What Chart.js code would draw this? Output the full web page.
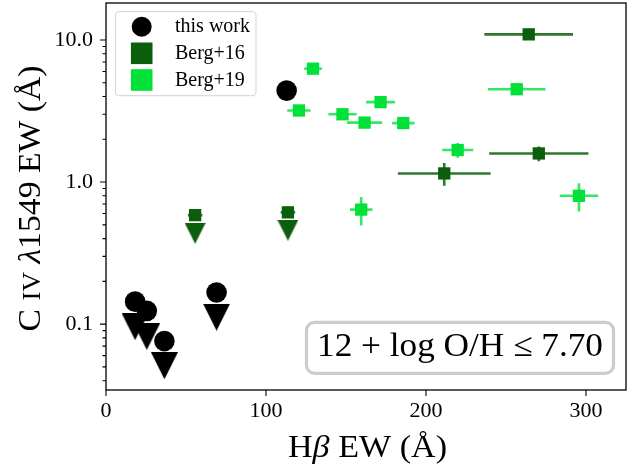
<!DOCTYPE html>
<html><head><meta charset="utf-8">
<script src="https://cdn.jsdelivr.net/npm/chart.js@4.4.1/dist/chart.umd.min.js"></script>
<style>html,body{margin:0;padding:0;background:#fff;} canvas{display:block;}</style>
</head><body>
<canvas id="c" width="641" height="469" style="width:641px;height:469px"></canvas>
<script>
// ---- data ----
const xTicks = [0, 100, 200, 300];
const yMajorTicks = [0.1, 1, 10];
const yTickLabels = ['0.1', '1.0', '10.0'];
const legendLabels = ['this work', 'Berg+16', 'Berg+19'];
const xTitleParts = [['H', ''], ['β', 'italic'], [' EW (Å)', '']];
const yTitleParts = [['C ', ''], ['IV', 'small'], [' ', ''], ['λ', 'italic'], ['1549 EW (Å)', '']];
const noteText = '12 + log O/H ≤ 7.70';

const thisWorkHb  = [112.9, 18.2, 25.5, 36.5, 69.1];
const thisWorkCIV = [4.4, 0.144, 0.124, 0.076, 0.167];
const thisWorkLimHb  = [18.2, 25.5, 36.5, 69.1];
const thisWorkLimCIV = [0.096, 0.082, 0.051, 0.112];

const berg16Hb     = [55.7, 113.7, 211.4, 264.2, 270.5];
const berg16CIV    = [0.585, 0.612, 1.15, 10.95, 1.59];
const berg16HbErr  = [4.5, 4.5, 29, 27.7, 31];
const berg16CIVErr = [0.02, 0.02, 0.21, 0.4, 0.19];
const berg16LimHb  = [55.7, 113.7];
const berg16LimCIV = [0.436, 0.458];

const berg19Hb     = [129.4, 120.6, 147.8, 171.6, 161.6, 185.8, 159.5, 256.7, 219.8, 295.6];
const berg19CIV    = [6.28, 3.19, 3.00, 3.65, 2.62, 2.60, 0.64, 4.50, 1.68, 0.80];
const berg19HbErr  = [5.5, 7.3, 8.8, 9, 11, 7, 7, 18, 9.7, 12];
const berg19CIVErr = [0.2, 0.08, 0.08, 0.1, 0.08, 0.08, 0.145, 0.1, 0.2, 0.18];

// ---- style ----
const SERIF = "'Liberation Serif', 'Times New Roman', serif";
const BLACK = '#000000';
const DARK = '#0b5e0b';
const DARK_ERR = 'rgba(11,94,11,0.85)';
const BRIGHT = '#02e13a';
const BRIGHT_ERR = 'rgba(2,225,58,0.8)';
const AREA = {left: 106, right: 626, top: 3, bottom: 390};

function pts(xs, ys) { return xs.map((v, i) => ({x: v, y: ys[i]})); }
function triangleImage(w, h, color) {
  const c = document.createElement('canvas');
  c.width = w; c.height = h;
  const g = c.getContext('2d');
  g.fillStyle = color;
  g.beginPath(); g.moveTo(0, 0); g.lineTo(w, 0); g.lineTo(w / 2, h); g.closePath(); g.fill();
  return c;
}
const triBlack = triangleImage(27, 27, BLACK);
const triDark = triangleImage(21, 21, DARK);

function fontFor(style, size) {
  if (style === 'italic') return 'italic ' + size + 'px ' + SERIF;
  if (style === 'small') return Math.round(size * 0.82) + 'px ' + SERIF;
  return size + 'px ' + SERIF;
}
function drawRich(ctx, parts, cx, cy, rot, size, targetW) {
  ctx.save();
  let total = 0;
  const widths = parts.map(([t, s]) => { ctx.font = fontFor(s, size); const w = ctx.measureText(t).width; total += w; return w; });
  ctx.translate(cx, cy);
  ctx.rotate(rot);
  ctx.scale(targetW / total, 1);
  ctx.fillStyle = '#000'; ctx.textAlign = 'left'; ctx.textBaseline = 'alphabetic';
  let x = -total / 2;
  parts.forEach(([t, s], i) => { ctx.font = fontFor(s, size); ctx.fillText(t, x, 0); x += widths[i]; });
  ctx.restore();
}

// force the plot area to the reference position
const fixArea = {
  id: 'fixArea',
  afterLayout(chart) {
    const a = chart.chartArea;
    Object.assign(a, AREA);
    a.width = AREA.right - AREA.left; a.height = AREA.bottom - AREA.top;
    const {x, y} = chart.scales;
    x.left = AREA.left; x.right = AREA.right; x.width = a.width;
    x.top = AREA.bottom; x.bottom = 469;
    y.top = AREA.top; y.bottom = AREA.bottom; y.height = a.height;
    y.left = 0; y.right = AREA.left;
    x.configure(); y.configure();
  }
};

const errorBars = {
  id: 'errorBars',
  beforeDatasetsDraw(chart) {
    const {ctx, scales: {x, y}, chartArea: a} = chart;
    ctx.save();
    ctx.beginPath(); ctx.rect(a.left, a.top, a.right - a.left, a.bottom - a.top); ctx.clip();
    chart.data.datasets.forEach(ds => {
      if (!ds.errX) return;
      ctx.strokeStyle = ds.errColor; ctx.lineWidth = 2.6; ctx.lineCap = 'butt';
      ds.data.forEach((p, i) => {
        const px = x.getPixelForValue(p.x), py = y.getPixelForValue(p.y);
        const ex = ds.errX[i], ey = ds.errY[i];
        ctx.beginPath();
        ctx.moveTo(x.getPixelForValue(p.x - ex), py); ctx.lineTo(x.getPixelForValue(p.x + ex), py);
        ctx.moveTo(px, y.getPixelForValue(p.y - ey)); ctx.lineTo(px, y.getPixelForValue(p.y + ey));
        ctx.stroke();
      });
    });
    ctx.restore();
  }
};

const frameAndDecor = {
  id: 'frameAndDecor',
  afterDraw(chart) {
    const {ctx, scales: {x, y}, chartArea: a} = chart;
    ctx.save();
    ctx.strokeStyle = '#000'; ctx.lineWidth = 1.3;
    ctx.strokeRect(a.left, a.top, a.right - a.left, a.bottom - a.top);
    ctx.lineWidth = 1.1;
    ctx.beginPath();
    xTicks.forEach(v => { const px = x.getPixelForValue(v); ctx.moveTo(px, a.bottom); ctx.lineTo(px, a.bottom + 6); });
    for (let d = -2; d <= 1; d++) {
      for (let m = 1; m <= 9; m++) {
        const v = m * Math.pow(10, d);
        if (v < y.min || v > y.max) continue;
        const py = y.getPixelForValue(v);
        const len = m === 1 ? 6 : 3.5;
        ctx.moveTo(a.left, py); ctx.lineTo(a.left - len, py);
      }
    }
    ctx.stroke();

    drawRich(ctx, xTitleParts, 367.5, 456.5, 0, 31, 159);
    drawRich(ctx, yTitleParts, 40, 198.5, -Math.PI / 2, 31, 266);

    const lx = 115.5, ly = 11.7, lw = 140.5, lh = 84;
    ctx.beginPath(); ctx.roundRect(lx, ly, lw, lh, 3);
    ctx.fillStyle = 'rgba(255,255,255,0.85)'; ctx.fill();
    ctx.strokeStyle = '#d3d3d3'; ctx.lineWidth = 1; ctx.stroke();
    const mx = 141.7, rows = [26.7, 53.3, 80];
    ctx.fillStyle = BLACK;
    ctx.beginPath(); ctx.arc(mx, rows[0], 10, 0, Math.PI * 2); ctx.fill();
    ctx.fillStyle = DARK; ctx.fillRect(mx - 10.8, rows[1] - 10.8, 21.6, 21.6);
    ctx.fillStyle = BRIGHT; ctx.fillRect(mx - 10.8, rows[2] - 10.8, 21.6, 21.6);
    ctx.fillStyle = '#000';
    ctx.font = '20px ' + SERIF; ctx.textAlign = 'left'; ctx.textBaseline = 'alphabetic';
    legendLabels.forEach((t, i) => ctx.fillText(t, 175, rows[i] + 5.5));

    ctx.beginPath(); ctx.roundRect(306.5, 322.3, 307, 51, 8);
    ctx.fillStyle = '#fff'; ctx.fill();
    ctx.strokeStyle = '#cccccc'; ctx.lineWidth = 3.2; ctx.stroke();
    ctx.fillStyle = '#000';
    ctx.font = '33px ' + SERIF; ctx.textAlign = 'center'; ctx.textBaseline = 'alphabetic';
    const w = ctx.measureText(noteText).width;
    ctx.translate(460, 356);
    ctx.scale(286 / w, 1);
    ctx.fillText(noteText, 0, 0);
    ctx.restore();
  }
};

const chart = new Chart(document.getElementById('c'), {
  type: 'scatter',
  data: {
    datasets: [
      {label: 'this work', data: pts(thisWorkHb, thisWorkCIV), pointStyle: 'circle', pointRadius: 10.3,
       backgroundColor: BLACK, borderWidth: 0, order: 1},
      {label: 'this work limits', data: pts(thisWorkLimHb, thisWorkLimCIV), pointStyle: triBlack,
       pointRadius: 14, backgroundColor: BLACK, borderWidth: 0, order: 0},
      {label: 'Berg+16 limits', data: pts(berg16LimHb, berg16LimCIV), pointStyle: triDark,
       pointRadius: 11, backgroundColor: DARK, borderWidth: 0, order: 4},
      {label: 'Berg+16', data: pts(berg16Hb, berg16CIV), pointStyle: 'rect', pointRadius: 8.7,
       backgroundColor: DARK, borderWidth: 0, errX: berg16HbErr, errY: berg16CIVErr, errColor: DARK_ERR, order: 3},
      {label: 'Berg+19', data: pts(berg19Hb, berg19CIV), pointStyle: 'rect', pointRadius: 8.7,
       backgroundColor: BRIGHT, borderWidth: 0, errX: berg19HbErr, errY: berg19CIVErr, errColor: BRIGHT_ERR, order: 2}
    ]
  },
  options: {
    responsive: false, animation: false, devicePixelRatio: 1,
    layout: {padding: {left: 0, right: 15, top: 3, bottom: 0}},
    plugins: {legend: {display: false}, tooltip: {enabled: false}},
    elements: {point: {hoverRadius: 0}},
    scales: {
      x: {
        type: 'linear', min: 0, max: 325,
        afterBuildTicks(s) { s.ticks = xTicks.map(v => ({value: v})); },
        afterFit(s) { s.height = 79; },
        ticks: {font: {family: SERIF, size: 22}, color: '#000', padding: 8, maxRotation: 0, autoSkip: false,
                callback: v => String(v)},
        grid: {display: false, drawTicks: false}, border: {display: false},
        title: {display: false}
      },
      y: {
        type: 'logarithmic', min: 0.0344, max: 18.2,
        afterBuildTicks(s) { s.ticks = yMajorTicks.map(v => ({value: v})); },
        afterFit(s) { s.width = 106; },
        ticks: {font: {family: SERIF, size: 22}, color: '#000', padding: 13, autoSkip: false,
                callback: v => { const i = yMajorTicks.findIndex(m => Math.abs(m - v) / m < 1e-6); return i >= 0 ? yTickLabels[i] : ''; }},
        grid: {display: false, drawTicks: false}, border: {display: false},
        title: {display: false}
      }
    }
  },
  plugins: [fixArea, errorBars, frameAndDecor]
});
</script>
</body></html>
